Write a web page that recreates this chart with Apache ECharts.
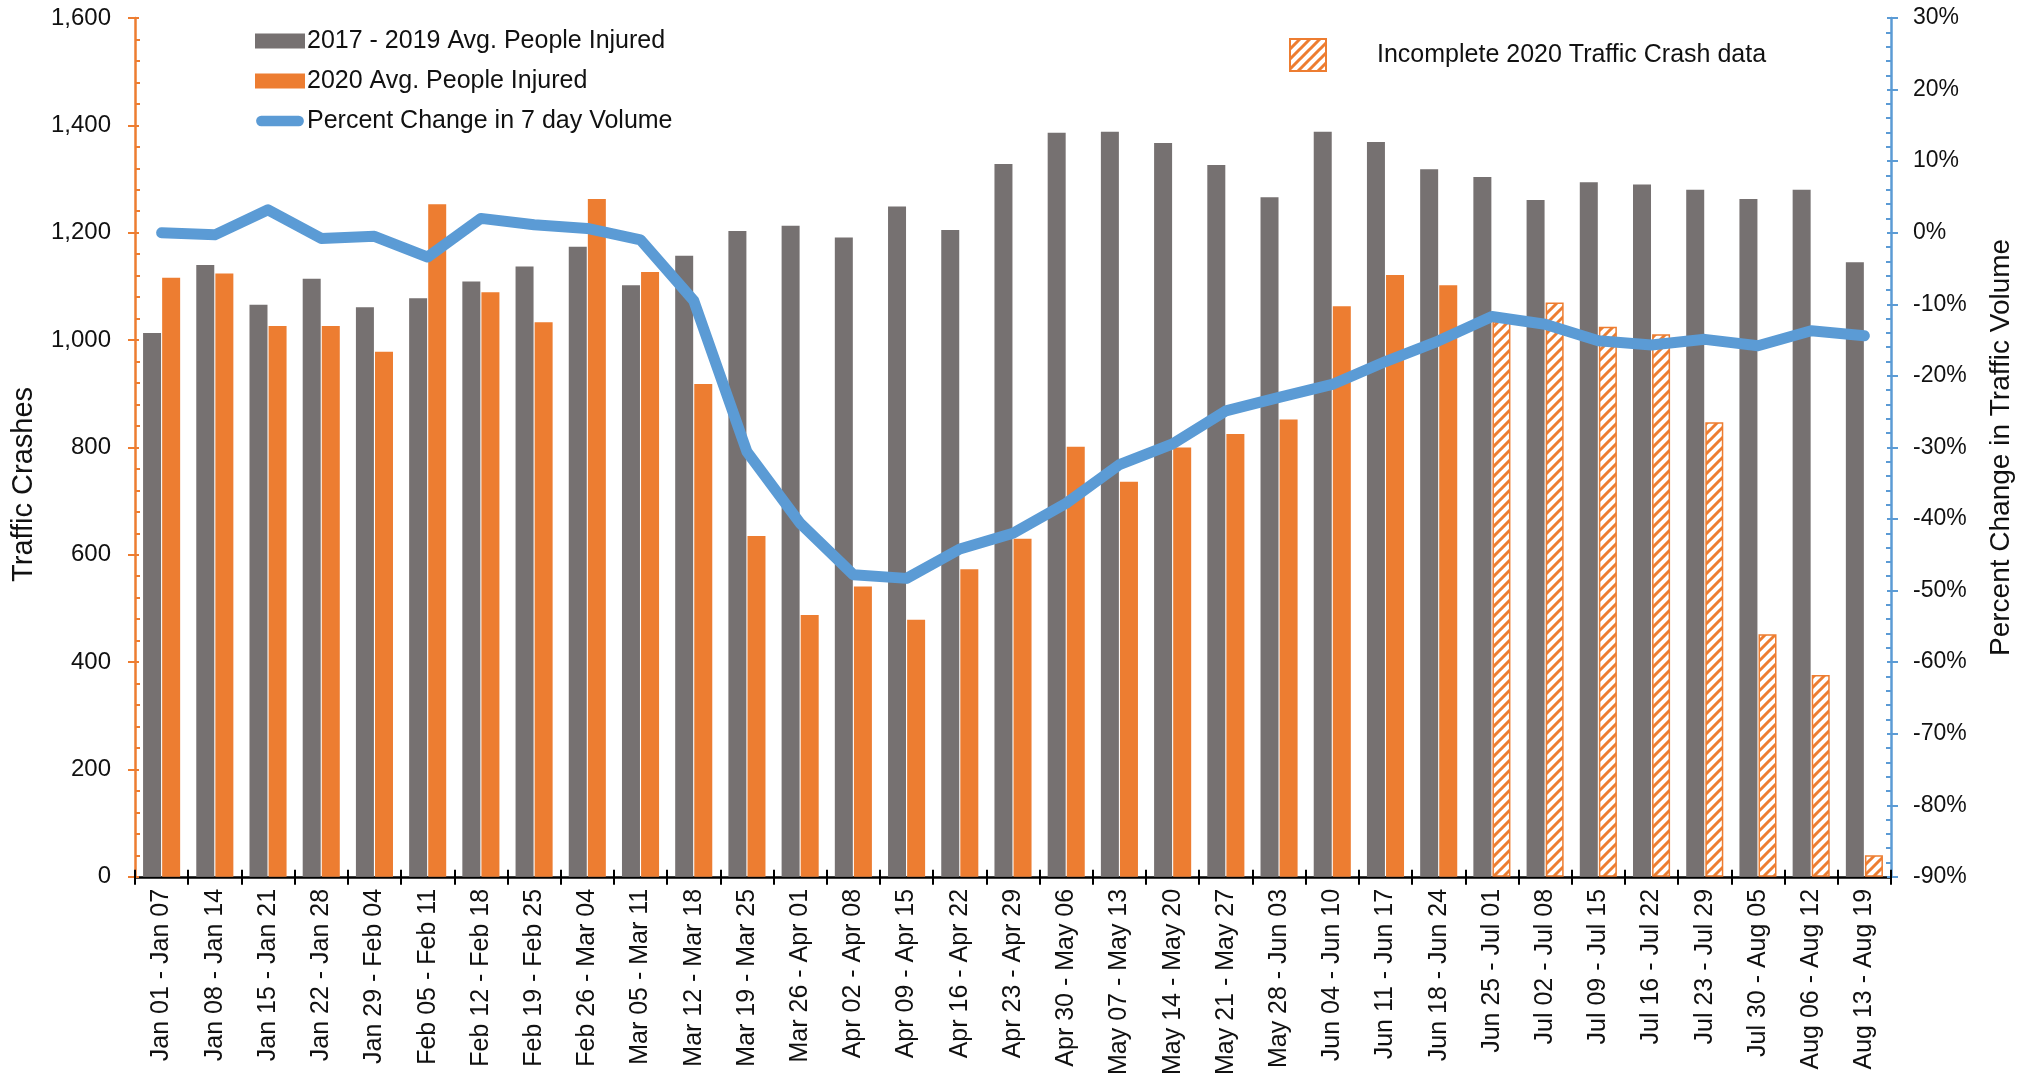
<!DOCTYPE html>
<html>
<head>
<meta charset="utf-8">
<script src="https://cdn.jsdelivr.net/npm/echarts@6/dist/echarts.min.js"></script>
<style>
html,body{margin:0;padding:0;background:#fff;}
#chart{width:2030px;height:1078px;}
</style>
</head>
<body>
<div id="chart"></div>
<script>
const categories = [
  'Jan 01 - Jan 07','Jan 08 - Jan 14','Jan 15 - Jan 21','Jan 22 - Jan 28','Jan 29 - Feb 04',
  'Feb 05 - Feb 11','Feb 12 - Feb 18','Feb 19 - Feb 25','Feb 26 - Mar 04','Mar 05 - Mar 11',
  'Mar 12 - Mar 18','Mar 19 - Mar 25','Mar 26 - Apr 01','Apr 02 - Apr 08','Apr 09 - Apr 15',
  'Apr 16 - Apr 22','Apr 23 - Apr 29','Apr 30 - May 06','May 07 - May 13','May 14 - May 20',
  'May 21 - May 27','May 28 - Jun 03','Jun 04 - Jun 10','Jun 11 - Jun 17','Jun 18 - Jun 24',
  'Jun 25 - Jul 01','Jul 02 - Jul 08','Jul 09 - Jul 15','Jul 16 - Jul 22','Jul 23 - Jul 29',
  'Jul 30 - Aug 05','Aug 06 - Aug 12','Aug 13 - Aug 19'
];
const injured2017to2019 = [1013,1140,1066,1114,1061,1078,1109,1137,1174,1102,1157,1203,1213,1191,1249,1205,1328,1386,1388,1367,1326,1266,1388,1369,1318,1304,1261,1294,1290,1280,1263,1280,1145];
const injured2020Complete = [1116,1124,1026,1026,978,1253,1089,1033,1263,1127,918,635,488,541,479,573,630,801,736,800,825,852,1063,1121,1102];
const injured2020Incomplete = [1035,1070,1025,1011,847,452,376,40];
const pctChangeVolume = [0,-0.3,3.2,-0.8,-0.5,-3.4,2.0,1.1,0.6,-1.0,-9.5,-30.6,-40.6,-47.8,-48.3,-44.2,-42.0,-37.8,-32.4,-29.5,-24.9,-23.0,-21.2,-18.0,-15.1,-11.7,-12.8,-15.1,-15.7,-14.9,-15.8,-13.7,-14.4];
const leftTicks = {min:0, max:1600, interval:200};
const rightTicks = {min:-90, max:30, interval:10};

const GRAY = '#767171', ORANGE = '#ED7D31', BLUE = '#5B9BD5';
const FONT = 'Liberation Sans, Arial, sans-serif';

function hatch(){
  const c = document.createElement('canvas'); c.width = 10; c.height = 10;
  const g = c.getContext('2d');
  g.fillStyle = '#fff'; g.fillRect(0,0,10,10);
  g.strokeStyle = ORANGE; g.lineWidth = 3;
  g.beginPath();
  g.moveTo(-5,5); g.lineTo(5,-5);
  g.moveTo(0,10); g.lineTo(10,0);
  g.moveTo(5,15); g.lineTo(15,5);
  g.stroke();
  return c;
}
const hatchPattern = {image: hatch(), repeat: 'repeat'};

const nComplete = injured2020Complete.length;
const completeData = categories.map((c,i) => i < nComplete ? injured2020Complete[i] : '-');
const incompleteData = categories.map((c,i) => i >= nComplete ? injured2020Incomplete[i - nComplete] : '-');

const chart = echarts.init(document.getElementById('chart'), null, {renderer:'canvas'});
chart.setOption({
  animation: false,
  backgroundColor: '#fff',
  textStyle: {fontFamily: FONT, color: '#111'},
  grid: {left: 135, right: 139, top: 18, bottom: 199},
  legend: [
    {
      orient: 'vertical', left: 250, top: 22, itemWidth: 50, itemHeight: 15, itemGap: 12,
      textStyle: {fontFamily: FONT, fontSize: 25, color: '#111', lineHeight: 28, padding: [0,0,0,-3]},
      data: [
        {name: '2017 - 2019 Avg. People Injured', icon: 'rect'},
        {name: '2020 Avg. People Injured', icon: 'rect'},
        {name: 'Percent Change in 7 day Volume', icon: 'path://M0,0 M50,16 M5,2.5 L45,2.5 A5.5,5.5 0 0 1 45,13.5 L5,13.5 A5.5,5.5 0 0 1 5,2.5 Z'}
      ]
    },
    {
      left: 1284, top: 33, itemWidth: 36, itemHeight: 32,
      textStyle: {fontFamily: FONT, fontSize: 25, color: '#111', padding: [0,0,0,46]},
      data: [{name: 'Incomplete 2020 Traffic Crash data', icon: 'rect'}]
    }
  ],
  xAxis: [
    {
      type: 'category', data: categories, position: 'bottom',
      axisLine: {onZero: false, lineStyle: {color: '#000', width: 2.5}},
      axisTick: {show: true, interval: 0, length: 8, lineStyle: {color: '#000', width: 2}},
      axisLabel: {rotate: 90, fontSize: 25, color: '#111', margin: 12, fontFamily: FONT, interval: 0}
    },
    {
      type: 'category', data: categories, position: 'bottom',
      axisLine: {show: false, onZero: false},
      axisTick: {show: true, interval: 0, inside: true, length: 7, lineStyle: {color: '#000', width: 2}},
      axisLabel: {show: false}
    }
  ],
  yAxis: [
    {
      type: 'value', position: 'left', min: leftTicks.min, max: leftTicks.max, interval: leftTicks.interval,
      name: 'Traffic Crashes', nameLocation: 'middle', nameGap: 97, nameRotate: 90,
      nameTextStyle: {fontSize: 29, color: '#111', fontFamily: FONT, padding: [0,74,0,0]},
      axisLine: {show: true, lineStyle: {color: ORANGE, width: 2.5}},
      axisTick: {show: true, length: 7, lineStyle: {color: ORANGE, width: 2}},
      axisLabel: {fontSize: 24, color: '#111', margin: 24, formatter: v => v.toLocaleString('en-US')},
      splitLine: {show: false}
    },
    {
      type: 'value', position: 'right', min: rightTicks.min, max: rightTicks.max, interval: rightTicks.interval,
      name: 'Percent Change in Traffic Volume', nameLocation: 'middle', nameGap: 96, nameRotate: 90,
      nameTextStyle: {fontSize: 28, color: '#111', fontFamily: FONT},
      axisLine: {show: true, lineStyle: {color: BLUE, width: 2.5}},
      axisTick: {show: true, length: 7, lineStyle: {color: BLUE, width: 2}},
      axisLabel: {fontSize: 23, color: '#111', margin: 22, formatter: '{value}%'},
      splitLine: {show: false}
    },
    {
      type: 'value', position: 'left', min: leftTicks.min, max: leftTicks.max, interval: leftTicks.interval,
      axisLine: {show: false},
      axisTick: {show: true, inside: true, length: 4, lineStyle: {color: ORANGE, width: 2}},
      minorTick: {show: true, splitNumber: 5, length: 5, lineStyle: {color: ORANGE, width: 2}},
      axisLabel: {show: false}, splitLine: {show: false}
    },
    {
      type: 'value', position: 'right', min: rightTicks.min, max: rightTicks.max, interval: rightTicks.interval,
      axisLine: {show: false},
      axisTick: {show: true, inside: true, length: 4, lineStyle: {color: BLUE, width: 2}},
      minorTick: {show: true, splitNumber: 5, length: 5, lineStyle: {color: BLUE, width: 2}},
      axisLabel: {show: false}, splitLine: {show: false}
    }
  ],
  series: [
    {
      name: '2017 - 2019 Avg. People Injured', type: 'bar', data: injured2017to2019,
      barWidth: 18, barGap: '6%', itemStyle: {color: GRAY}
    },
    {
      name: '2020 Avg. People Injured', type: 'bar', stack: 's2020', data: completeData,
      barWidth: 18, itemStyle: {color: ORANGE}
    },
    {
      name: 'Incomplete 2020 Traffic Crash data', type: 'bar', stack: 's2020', data: incompleteData,
      barWidth: 18, itemStyle: {color: hatchPattern, borderColor: ORANGE, borderWidth: 1.5}
    },
    {
      name: 'Percent Change in 7 day Volume', type: 'line', yAxisIndex: 1, data: pctChangeVolume,
      symbol: 'none', showSymbol: false, z: 5,
      lineStyle: {color: BLUE, width: 11, cap: 'round', join: 'round'},
      itemStyle: {color: BLUE}
    }
  ]
});
</script>
</body>
</html>
